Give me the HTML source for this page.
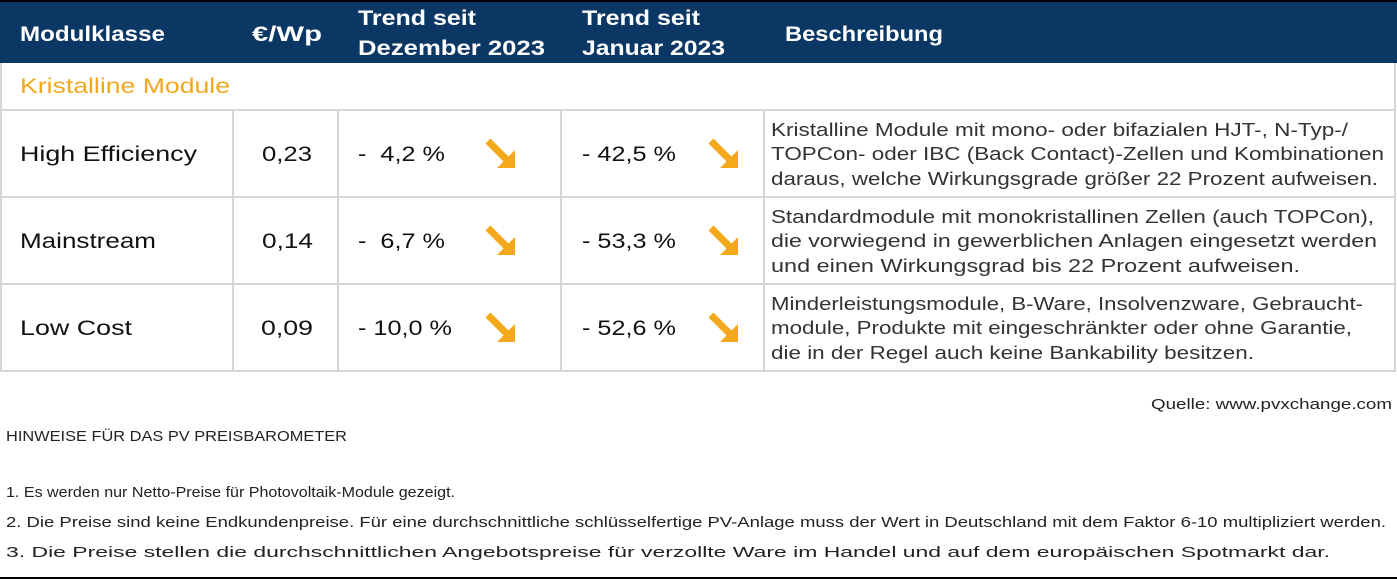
<!DOCTYPE html>
<html><head><meta charset="utf-8"><style>
html,body{margin:0;padding:0;background:#fff;width:1397px;height:580px;overflow:hidden}
svg text{font-family:"Liberation Sans",sans-serif}
</style></head><body>
<svg width="1397" height="580" viewBox="0 0 1397 580" xmlns="http://www.w3.org/2000/svg">
<defs>
<g id="arr"><line x1="0" y1="0" x2="19" y2="19" stroke="#f4a81c" stroke-width="7"/><polygon points="27,27 9,27 27,9" fill="#f4a81c"/></g>
</defs>
<rect x="0" y="0" width="1397" height="2" fill="#000"/>
<rect x="0" y="2" width="1397" height="61" fill="#0b3765"/>
<g fill="#fff" font-weight="bold" font-size="21">
<text x="20" y="41" textLength="145" lengthAdjust="spacingAndGlyphs">Modulklasse</text>
<text x="252" y="41" textLength="70" lengthAdjust="spacingAndGlyphs">€/Wp</text>
<text x="358" y="25" textLength="118" lengthAdjust="spacingAndGlyphs">Trend seit</text>
<text x="358" y="55" textLength="187" lengthAdjust="spacingAndGlyphs">Dezember 2023</text>
<text x="582" y="25" textLength="118" lengthAdjust="spacingAndGlyphs">Trend seit</text>
<text x="582" y="55" textLength="143" lengthAdjust="spacingAndGlyphs">Januar 2023</text>
<text x="785" y="41" textLength="158" lengthAdjust="spacingAndGlyphs">Beschreibung</text>
</g>
<g fill="#d6d6d6">
<rect x="0" y="63" width="2" height="309"/><rect x="1394" y="63" width="2" height="309"/>
<rect x="0" y="109" width="1396" height="2"/><rect x="0" y="196" width="1396" height="2"/>
<rect x="0" y="283" width="1396" height="2"/><rect x="0" y="370" width="1396" height="2"/>
<rect x="232" y="110" width="2" height="261"/><rect x="337" y="110" width="2" height="261"/>
<rect x="560" y="110" width="2" height="261"/><rect x="763" y="110" width="2" height="261"/>
</g>
<text x="20" y="93" fill="#f2a81d" font-size="21" textLength="210" lengthAdjust="spacingAndGlyphs">Kristalline Module</text>
<g fill="#111" font-size="21">
<text x="20" y="161" textLength="177" lengthAdjust="spacingAndGlyphs">High Efficiency</text>
<text x="262" y="161" textLength="50" lengthAdjust="spacingAndGlyphs">0,23</text>
<text x="358" y="161" textLength="87" lengthAdjust="spacingAndGlyphs" xml:space="preserve">-  4,2 %</text>
<text x="582" y="161" textLength="94" lengthAdjust="spacingAndGlyphs">- 42,5 %</text>
<text x="20" y="248" textLength="136" lengthAdjust="spacingAndGlyphs">Mainstream</text>
<text x="262" y="248" textLength="51" lengthAdjust="spacingAndGlyphs">0,14</text>
<text x="358" y="248" textLength="87" lengthAdjust="spacingAndGlyphs" xml:space="preserve">-  6,7 %</text>
<text x="582" y="248" textLength="94" lengthAdjust="spacingAndGlyphs">- 53,3 %</text>
<text x="20" y="335" textLength="112" lengthAdjust="spacingAndGlyphs">Low Cost</text>
<text x="261" y="335" textLength="52" lengthAdjust="spacingAndGlyphs">0,09</text>
<text x="358" y="335" textLength="94" lengthAdjust="spacingAndGlyphs">- 10,0 %</text>
<text x="582" y="335" textLength="94" lengthAdjust="spacingAndGlyphs">- 52,6 %</text>
</g>
<use href="#arr" x="488" y="141"/><use href="#arr" x="711" y="141"/>
<use href="#arr" x="488" y="228"/><use href="#arr" x="711" y="228"/>
<use href="#arr" x="488" y="315"/><use href="#arr" x="711" y="315"/>
<g fill="#333" font-size="18">
<text x="771" y="136" textLength="577" lengthAdjust="spacingAndGlyphs">Kristalline Module mit mono- oder bifazialen HJT-, N-Typ-/</text>
<text x="771" y="160" textLength="613" lengthAdjust="spacingAndGlyphs">TOPCon- oder IBC (Back Contact)-Zellen und Kombinationen</text>
<text x="771" y="185" textLength="607" lengthAdjust="spacingAndGlyphs">daraus, welche Wirkungsgrade größer 22 Prozent aufweisen.</text>
<text x="771" y="223" textLength="603" lengthAdjust="spacingAndGlyphs">Standardmodule mit monokristallinen Zellen (auch TOPCon),</text>
<text x="771" y="247" textLength="606" lengthAdjust="spacingAndGlyphs">die vorwiegend in gewerblichen Anlagen eingesetzt werden</text>
<text x="771" y="272" textLength="529" lengthAdjust="spacingAndGlyphs">und einen Wirkungsgrad bis 22 Prozent aufweisen.</text>
<text x="771" y="310" textLength="592" lengthAdjust="spacingAndGlyphs">Minderleistungsmodule, B-Ware, Insolvenzware, Gebraucht-</text>
<text x="771" y="334" textLength="581" lengthAdjust="spacingAndGlyphs">module, Produkte mit eingeschränkter oder ohne Garantie,</text>
<text x="771" y="359" textLength="483" lengthAdjust="spacingAndGlyphs">die in der Regel auch keine Bankability besitzen.</text>
</g>
<g fill="#222" font-size="15">
<text x="1151" y="409" textLength="241" lengthAdjust="spacingAndGlyphs">Quelle: www.pvxchange.com</text>
<text x="6" y="441" textLength="341" lengthAdjust="spacingAndGlyphs">HINWEISE FÜR DAS PV PREISBAROMETER</text>
<text x="6" y="497" textLength="449" lengthAdjust="spacingAndGlyphs">1.  Es werden nur Netto-Preise für Photovoltaik-Module gezeigt.</text>
<text x="6" y="527" textLength="1380" lengthAdjust="spacingAndGlyphs">2. Die Preise sind keine Endkundenpreise. Für eine durchschnittliche schlüsselfertige PV-Anlage muss der Wert in Deutschland mit dem Faktor 6-10 multipliziert werden.</text>
<text x="6" y="557" textLength="1324" lengthAdjust="spacingAndGlyphs">3. Die Preise stellen die durchschnittlichen Angebotspreise für verzollte Ware im Handel und auf dem europäischen Spotmarkt dar.</text>
</g>
<rect x="0" y="577" width="1397" height="2" fill="#000"/>
</svg>
</body></html>
